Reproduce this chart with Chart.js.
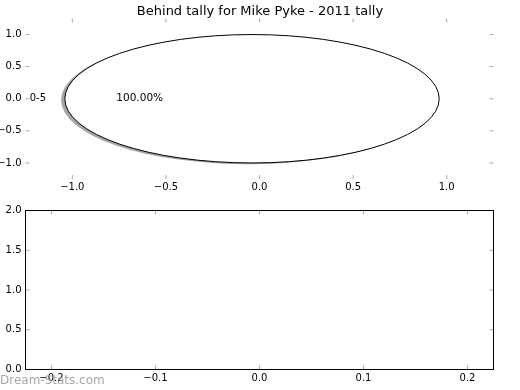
<!DOCTYPE html>
<html><head><meta charset="utf-8">
<script src="https://cdn.jsdelivr.net/npm/chart.js@4.4.0/dist/chart.umd.min.js"></script>
<style>
html,body{margin:0;padding:0;background:#fff;}
#wrap{position:relative;width:520px;height:390px;overflow:hidden;background:#fff;}
canvas{position:absolute;left:0;}
#top{top:0;} #bot{top:200px;}
</style></head><body>
<div id="wrap"><canvas id="top" width="520" height="200"></canvas><canvas id="bot" width="520" height="190"></canvas></div>
<script>
const titleText = 'Behind tally for Mike Pyke - 2011 tally';
const pieLabels = ['0-5'];
const pieValues = [100];
const pieExplode = [0.04];
const pieXTicks = [-1.0, -0.5, 0.0, 0.5, 1.0];
const pieYTicks = [-1.0, -0.5, 0.0, 0.5, 1.0];
const lowerXTicks = [-0.2, -0.1, 0.0, 0.1, 0.2];
const lowerYTicks = [0.0, 0.5, 1.0, 1.5, 2.0];
const watermarkText = 'Dream-Stats.com';

const FONT = "'DejaVu Sans', sans-serif";
const fmt = v => (Math.abs(v) < 1e-9 ? 0 : v).toFixed(1).replace('-', '\u2212');

function axis(tickArr, min, max, isX, size, pad) {
  return {
    type: 'linear', min: min, max: max,
    grid: {display: false, drawTicks: false},
    border: {display: false},
    ticks: {font: {family: FONT, size: 10}, color: '#000', padding: pad,
            callback: v => fmt(v), maxRotation: 0, autoSkip: false},
    afterBuildTicks: s => { s.ticks = tickArr.map(v => ({value: v})); },
    afterFit: s => { if (isX) s.height = size; else s.width = size; }
  };
}
// empty right-hand spacer so the title is centred over the full figure width
function spacer(width) {
  return {
    type: 'linear', position: 'right', display: true,
    grid: {display: false, drawTicks: false}, border: {display: false},
    ticks: {display: false},
    afterFit: s => { s.width = width; }
  };
}

const innerTicks = {
  id: 'innerTicks',
  afterDraw(chart, args, opts) {
    const {ctx, chartArea: a} = chart;
    const xs = chart.scales.x, ys = chart.scales.y;
    ctx.save();
    ctx.strokeStyle = '#aaaaaa'; ctx.lineWidth = 1;
    ctx.beginPath();
    xs.ticks.forEach(t => {
      const p = xs.getPixelForValue(t.value);
      ctx.moveTo(p, a.top); ctx.lineTo(p, a.top + 4);
      ctx.moveTo(p, a.bottom); ctx.lineTo(p, a.bottom - 4);
    });
    ys.ticks.forEach(t => {
      const p = ys.getPixelForValue(t.value);
      ctx.moveTo(a.left, p); ctx.lineTo(a.left + 4, p);
      ctx.moveTo(a.right, p); ctx.lineTo(a.right - 4, p);
    });
    ctx.stroke();
    if (opts && opts.frame) {
      ctx.strokeStyle = '#000'; ctx.lineWidth = 1;
      ctx.strokeRect(a.left, a.top, a.right - a.left, a.bottom - a.top);
    }
    if (opts && opts.watermark) {
      ctx.font = '12px ' + FONT;
      ctx.fillStyle = 'rgba(150,150,150,0.85)';
      ctx.textAlign = 'left'; ctx.textBaseline = 'alphabetic';
      ctx.fillText(opts.watermark, 0, 184);
    }
    ctx.restore();
  }
};

const piePlugin = {
  id: 'pieDraw',
  afterDatasetsDraw(chart) {
    const {ctx} = chart;
    const xs = chart.scales.x, ys = chart.scales.y;
    const px = v => xs.getPixelForValue(v), py = v => ys.getPixelForValue(v);
    const rx = px(1) - px(0), ry = py(0) - py(1);
    const total = pieValues.reduce((s, v) => s + v, 0);
    let start = 0;
    const wedges = pieValues.map((v, i) => {
      const frac = v / total;
      const t1 = start, t2 = start + frac * 2 * Math.PI;
      start = t2;
      const mid = (t1 + t2) / 2;
      const ex = pieExplode[i] || 0;
      return {frac, t1, t2, mid, cx: ex * Math.cos(mid), cy: ex * Math.sin(mid), label: pieLabels[i]};
    });
    function path(w, ox, oy) {
      const cxp = px(w.cx + ox), cyp = py(w.cy + oy);
      ctx.beginPath();
      if (w.frac >= 0.99999) {
        ctx.ellipse(cxp, cyp, rx, ry, 0, 0, 2 * Math.PI);
      } else {
        ctx.moveTo(cxp, cyp);
        ctx.ellipse(cxp, cyp, rx, ry, 0, -w.t1, -w.t2, true);
        ctx.closePath();
      }
    }
    ctx.save();
    wedges.forEach(w => { path(w, -0.02, -0.02); ctx.fillStyle = 'rgba(77,77,77,0.5)'; ctx.fill(); });
    wedges.forEach(w => {
      path(w, 0, 0);
      ctx.fillStyle = '#ffffff'; ctx.fill();
      ctx.strokeStyle = '#000'; ctx.lineWidth = 1; ctx.stroke();
    });
    ctx.fillStyle = '#000';
    ctx.textBaseline = 'middle';
    wedges.forEach(w => {
      const lx = w.cx + 1.1 * Math.cos(w.mid), ly = w.cy + 1.1 * Math.sin(w.mid);
      ctx.font = '10px ' + FONT;
      ctx.textAlign = lx > 0 ? 'left' : 'right';
      ctx.fillText(w.label, px(lx), py(ly));
      const tx = w.cx + 0.6 * Math.cos(w.mid), ty = w.cy + 0.6 * Math.sin(w.mid);
      ctx.font = '10.5px ' + FONT;
      ctx.textAlign = 'center';
      ctx.fillText((w.frac * 100).toFixed(2) + '%', px(tx), py(ty));
    });
    ctx.restore();
  }
};

new Chart(document.getElementById('top'), {
  type: 'scatter',
  data: {datasets: []},
  options: {
    responsive: false, animation: false,
    layout: {padding: {left: 0, right: 0, top: 0, bottom: 0}},
    plugins: {
      legend: {display: false}, tooltip: {enabled: false},
      title: {display: true, text: titleText, color: '#000',
              font: {family: FONT, size: 13, weight: 'normal', lineHeight: 1.0},
              padding: {top: 5.3, bottom: 0.2}},
      innerTicks: {frame: false}
    },
    scales: {
      x: axis(pieXTicks, -1.25, 1.25, true, 21, 2),
      y: axis(pieYTicks, -1.25, 1.25, false, 25.5, 4),
      yr: spacer(26.5)
    }
  },
  plugins: [piePlugin, innerTicks]
});

new Chart(document.getElementById('bot'), {
  type: 'scatter',
  data: {datasets: []},
  options: {
    responsive: false, animation: false,
    layout: {padding: {left: 0, right: 0, top: 10.5, bottom: 0}},
    plugins: {
      legend: {display: false}, tooltip: {enabled: false}, title: {display: false},
      innerTicks: {frame: true, watermark: watermarkText}
    },
    scales: {
      x: axis(lowerXTicks, -0.225, 0.225, true, 20.5, 3),
      y: axis(lowerYTicks, 0, 2, false, 25.5, 4),
      yr: spacer(26.5)
    }
  },
  plugins: [innerTicks]
});
</script>
</body></html>
